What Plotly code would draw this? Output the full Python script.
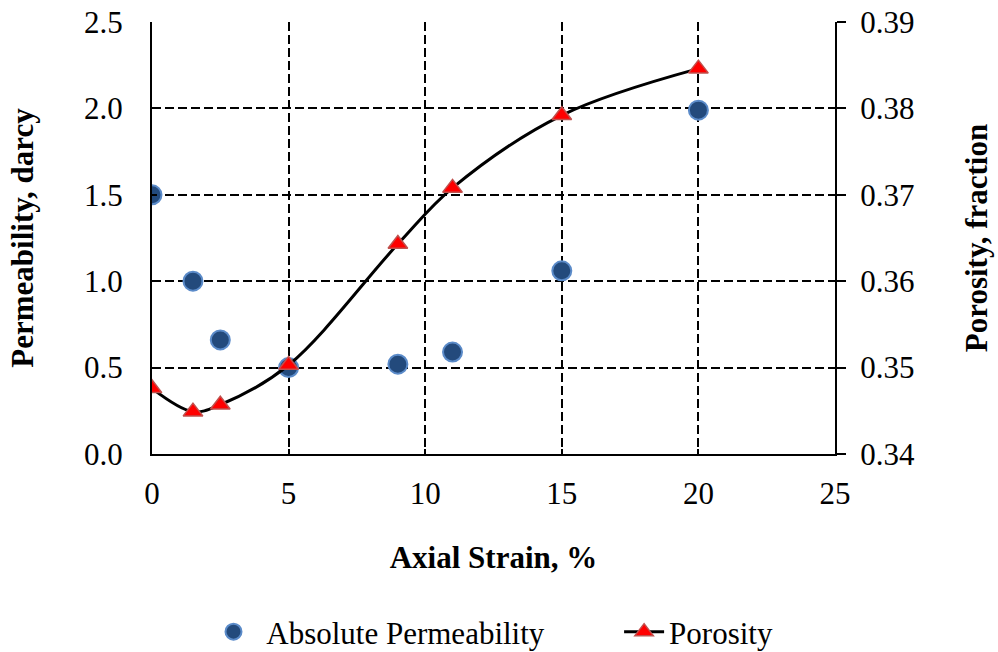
import plotly.graph_objects as go

strain_perm = [0, 1.5, 2.5, 5, 9, 11, 15, 20]
permeability = [1.50, 1.00, 0.66, 0.50, 0.52, 0.59, 1.06, 1.99]
strain_por = [0, 1.5, 2.5, 5, 9, 11, 15, 20]
porosity = [0.3476, 0.3449, 0.3457, 0.3503, 0.3643, 0.3708, 0.3792, 0.3846]

FONT = "Liberation Serif, Times New Roman, serif"
FS = 31
NB = "&nbsp;"

fig = go.Figure()
fig.add_trace(go.Scatter(
    x=strain_perm, y=permeability, mode="markers",
    name=NB + "Absolute Permeability" + NB * 9,
    marker=dict(symbol="circle", size=19, color="#234A7C",
                line=dict(color="#5B8BC9", width=2)),
    yaxis="y"))
fig.add_trace(go.Scatter(
    x=strain_por, y=porosity, mode="lines+markers", name="Porosity",
    line=dict(color="black", width=3, shape="spline", smoothing=1.0),
    marker=dict(symbol="triangle-up", size=17, color="#FF0000",
                line=dict(color="#C0504D", width=1.5)),
    yaxis="y2"))

fig.update_layout(
    width=998, height=652,
    margin=dict(l=152, r=163, t=22, b=198, autoexpand=False),
    paper_bgcolor="white", plot_bgcolor="white",
    font=dict(family=FONT, size=FS, color="black"),
    showlegend=True,
    legend=dict(orientation="h", x=0.5, xanchor="center", y=-0.412, yanchor="middle",
                font=dict(size=FS), itemwidth=40, tracegroupgap=0),
    xaxis=dict(range=[0, 25], dtick=5, tick0=0, showline=True, linecolor="black", linewidth=2,
               ticks="inside", ticklen=5, tickwidth=1.5, tickcolor="black",
               showgrid=True, gridcolor="black", griddash="9px,4px", gridwidth=1.5,
               zeroline=False, ticklabelstandoff=11, automargin=False,
               ticklabeloverflow="allow",
               title=dict(text="<b>Axial Strain, %</b>", standoff=36, font=dict(size=FS))),
    yaxis=dict(range=[0, 2.5], dtick=0.5, tick0=0, tickformat=".1f", showline=True,
               linecolor="black", linewidth=2, ticks="inside", ticklen=5, tickwidth=1.5,
               tickcolor="black", showgrid=True, gridcolor="black", griddash="9px,4px",
               gridwidth=1.5, zeroline=False, ticklabelstandoff=21, automargin=False,
               ticklabeloverflow="allow",
               title=dict(text="<b>Permeability, darcy</b>", standoff=41, font=dict(size=FS))),
    yaxis2=dict(range=[0.34, 0.39], dtick=0.01, tick0=0.34, tickformat=".2f", overlaying="y",
                side="right", showline=True, linecolor="black", linewidth=2,
                ticks="outside", ticklen=9, tickwidth=1.5, tickcolor="black",
                showgrid=False, zeroline=False, ticklabelstandoff=8, automargin=False,
                ticklabeloverflow="allow",
                title=dict(text="<b>Porosity, fraction</b>", standoff=51, font=dict(size=FS))),
)

# remove the browser's default 8px body margin so the figure sits at the page origin
fig.write_html("out.html", config={"displayModeBar": False},
               post_script="document.body.style.margin='0';")
